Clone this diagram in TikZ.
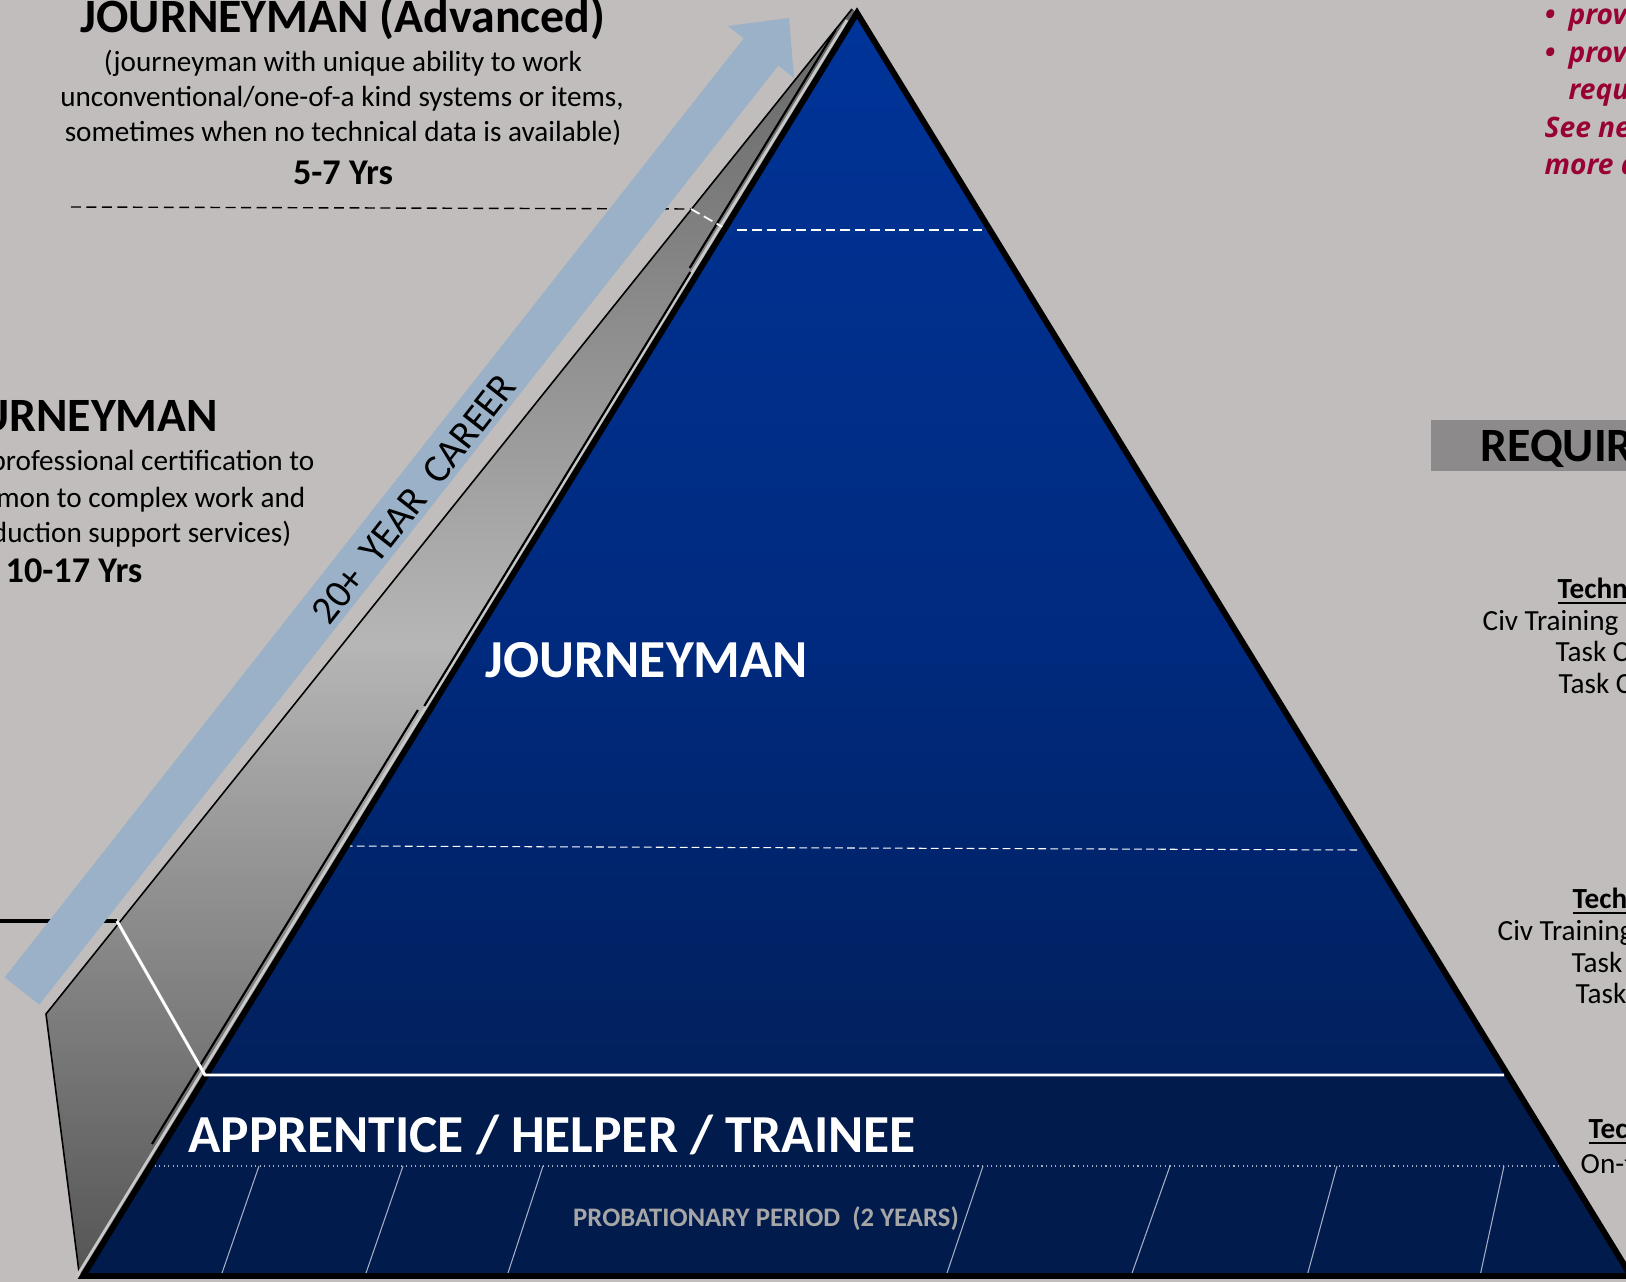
\documentclass[tikz,border=0pt]{standalone}
\usepackage{fontspec}
\setmainfont{Carlito}
\newfontfamily\notefont{Open Sans}
\usetikzlibrary{calc, positioning}

\definecolor{bggray}{RGB}{192,189,188}
\definecolor{careerblue}{RGB}{155,177,200}
\definecolor{pyrtop}{RGB}{0,52,153}
\definecolor{pyrmid}{RGB}{0,42,126}
\definecolor{pyrbot}{RGB}{1,27,77}
\definecolor{notered}{RGB}{153,0,51}
\definecolor{reqgray}{RGB}{140,138,138}
\definecolor{probgray}{RGB}{166,166,166}
\definecolor{stripegray}{RGB}{200,200,200}
\definecolor{faintline}{RGB}{165,175,195}
\definecolor{wedgetop}{RGB}{100,100,100}
\definecolor{wedgemid}{RGB}{182,182,182}
\definecolor{wedgebot}{RGB}{85,85,85}

\tikzset{
  hdtext/.style={font=\fontsize{13.6}{16}\selectfont\bfseries, inner sep=0pt},
  bodytext/.style={font=\fontsize{8.3}{10}\selectfont, inner sep=0pt},
  yrstext/.style={font=\fontsize{10.3}{12}\selectfont\bfseries, inner sep=0pt},
  lvltext/.style={text=white, font=\fontsize{15.2}{18}\selectfont\bfseries, inner sep=0pt},
  probtext/.style={text=probgray, font=\fontsize{7.6}{9}\selectfont\bfseries, inner sep=0pt},
  careertext/.style={font=\fontsize{11.3}{13}\selectfont, inner sep=0pt},
  notetext/.style={text=notered, font=\notefont\fontsize{8}{10}\selectfont\bfseries\itshape, inner sep=0pt},
  advlead/.style={line width=0.4pt, dash pattern=on 2.8pt off 1.6pt},
  jmlead/.style={line width=1.4pt},
  whitedash/.style={white, line width=0.5pt, dash pattern=on 2.8pt off 1.4pt},
  slant/.style={faintline, line width=0.3pt}
}

\begin{document}
\begin{tikzpicture}[x=0.01cm, y=-0.01cm]
\useasboundingbox (0,0) rectangle (1626,1282);
\clip (0,0) rectangle (1626,1282);
\fill[bggray] (0,0) rectangle (1626,1282);

\coordinate (apex) at (857,13);
\coordinate (bl) at (83,1276);
\coordinate (br) at (1631,1276);
\coordinate (wtop) at (852,9);
\coordinate (wknee) at (46,1014);
\coordinate (wfoot) at (79,1272);
\coordinate (advstart) at (71,207);
\coordinate (advwedge) at (691,209);
\coordinate (advedge) at (726,229);
\coordinate (jmstart) at (0,921);
\coordinate (jmwedge) at (117,921);
\coordinate (jmedge) at (205,1075);
\coordinate (jmright) at (1504,1075);

\draw[advlead] (advstart) -- (advwedge);
\draw[jmlead] (jmstart) -- (jmwedge);

\fill[careerblue] (4.7,977.4) -- (743.7,38.4) -- (728,26) -- (789,18) -- (794,78) -- (778.3,65.6) -- (39.3,1004.6) -- cycle;
\node[careertext, rotate=51.8] (career) at (414,499) {20+\ \ YEAR\ \ CAREER};

\shade[top color=wedgetop, bottom color=wedgebot, middle color=wedgemid] (wtop) -- (wknee) -- (wfoot) -- (bl) -- (apex) -- cycle;
\draw[line width=0.45pt] (wtop) -- (wknee) -- (wfoot);
\draw[stripegray, line width=0.8pt] (847,20) -- (77,1276);
\draw[line width=0.6pt] (835.6,30) -- (689.7,268);
\draw[line width=0.6pt] (690.3,272) -- (424.3,706);
\draw[line width=0.6pt] (417.9,710) -- (152,1144);

\draw[whitedash] (advwedge) -- (advedge);

\shade[top color=pyrtop, bottom color=pyrbot, middle color=pyrmid] (apex) -- (bl) -- (br) -- cycle;
\fill[pyrbot] (jmedge) -- ($(apex)!0.8409!(br)$) -- (br) -- (bl) -- cycle;

\draw[whitedash] (737,230) -- (982,230);
\draw[white, line width=0.3pt, dash pattern=on 2.2pt off 1.2pt] (345,846) -- (1358,850);
\draw[faintline, line width=0.3pt, densely dotted] (150,1166) -- (1559,1166);
\foreach \a/\b in {259/221, 403/365, 543/507, 983/946, 1170/1131, 1337/1307, 1504/1480}
  {\draw[slant] (\a,1166) -- (\b,1276);}

\draw[line width=1.7pt, line join=miter, miter limit=20] (apex) -- (bl) -- (br) -- cycle;

\draw[white, line width=0.85pt] (jmwedge) -- (jmedge) -- (jmright);

\node[hdtext, anchor=base] (advtitle) at (343,33) {JOURNEYMAN (Advanced)};
\node[bodytext, anchor=base] (advline1) at (343,72) {(journeyman with unique ability to work};
\node[bodytext, anchor=base] (advline2) at (342,107) {unconventional/one-of-a kind systems or items,};
\node[bodytext, anchor=base] (advline3) at (343,142) {sometimes when no technical data is available)};
\node[yrstext, anchor=base] (advyrs) at (343,185) {5-7 Yrs};

\node[hdtext, anchor=base] (jmtitle) at (74,432) {JOURNEYMAN};
\node[bodytext, anchor=base east] (jmline1) at (315,471) {professional certification to};
\node[bodytext, anchor=base east] (jmline2) at (306,508) {mon to complex work and};
\node[bodytext, anchor=base east] (jmline3) at (292,543) {duction support services)};
\node[yrstext, anchor=base] (jmyrs) at (74,583) {10-17 Yrs};

\node[lvltext, anchor=base] (jmlevel) at (647,678) {JOURNEYMAN};
\node[lvltext, anchor=base] (aplevel) at (552,1152) {APPRENTICE / HELPER / TRAINEE};
\node[probtext, anchor=base] (probation) at (766,1226) {PROBATIONARY PERIOD\ \ (2 YEARS)};

\node[notetext, anchor=base] (bul1) at (1550,25) {\textbullet};
\node[notetext, anchor=base west] (note1) at (1568,25) {prov};
\node[notetext, anchor=base] (bul2) at (1550,63) {\textbullet};
\node[notetext, anchor=base west] (note2) at (1568,63) {prov};
\node[notetext, anchor=base west] (note3) at (1568,100) {requ};
\node[notetext, anchor=base west] (note4) at (1544,138) {See ne};
\node[notetext, anchor=base west] (note5) at (1544,175) {more d};

\fill[reqgray] (1431,420) rectangle (1626,471);
\node[hdtext, anchor=base west] (req) at (1480,462) {REQUIR};

\node[bodytext, anchor=base west] (techA) at (1557,598) {\textbf{\underline{Techn}}};
\node[bodytext, anchor=base west] (civA) at (1482,630) {Civ Training};
\node[bodytext, anchor=base west] (taskA1) at (1555,662) {Task C};
\node[bodytext, anchor=base west] (taskA2) at (1558,693) {Task C};
\node[bodytext, anchor=base west] (techB) at (1572,908) {\textbf{\underline{Tech}}};
\node[bodytext, anchor=base west] (civB) at (1497,940) {Civ Training};
\node[bodytext, anchor=base west] (taskB1) at (1571,972) {Task};
\node[bodytext, anchor=base west] (taskB2) at (1575,1003) {Task};
\node[bodytext, anchor=base west] (techC) at (1588,1138) {\textbf{\underline{Tec}}};
\node[bodytext, anchor=base west] (ojt) at (1580,1173) {On-t};
\end{tikzpicture}
\end{document}
